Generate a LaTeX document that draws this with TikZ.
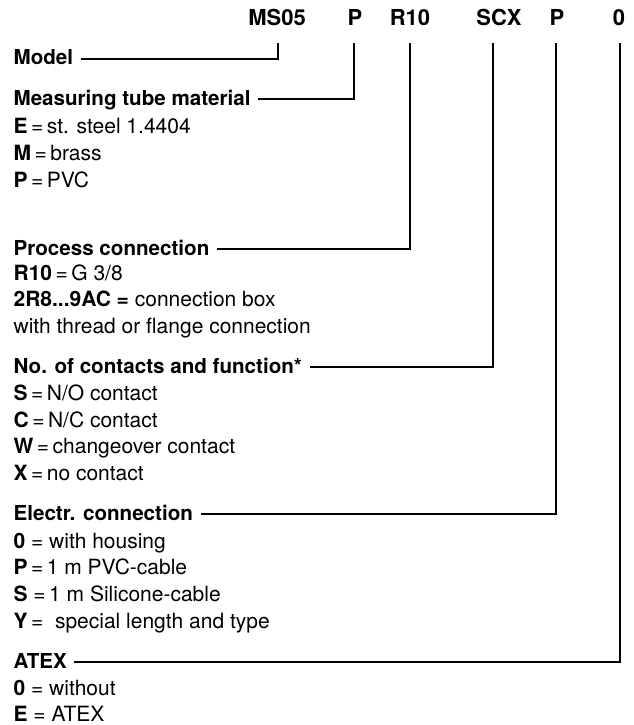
\documentclass[tikz,border=0pt]{standalone}
\usepackage{fontspec}
\setmainfont{TeX Gyre Heros}
\usetikzlibrary{positioning}

\begin{document}
\begin{tikzpicture}[x=1pt,y=-1pt,line width=1.2pt]
\tikzstyle{code}=[anchor=base,font=\fontsize{22}{26}\selectfont\bfseries,inner sep=0pt,text depth=0pt,outer ysep=17pt]
\tikzstyle{head}=[anchor=base west,font=\fontsize{20.6}{24}\selectfont\bfseries,inner sep=0pt,text height=12pt,text depth=0pt]
\tikzstyle{item}=[anchor=base west,font=\fontsize{21}{24}\selectfont,inner sep=0pt]
\useasboundingbox (0,0) rectangle (634,725);
% order code
\node[code] (cMS) at (277,26) {MS05};
\node[code] (cP) at (355,26) {P};
\node[code] (cR) at (410,26) {R10};
\node[code] (cSCX) at (499,26) {SCX};
\node[code] (cE) at (557,26) {P};
\node[code] (cA) at (619,26) {0};
% headings
\node[head] (model) at (13,65) {Model};
\node[head] (tube) at (13,105) {Measuring tube material};
\node[head] (proc) at (13,255) {Process connection};
\node[head] (cont) at (13,373) {No. of contacts and function*};
\node[head] (elec) at (13,520) {Electr. connection};
\node[head] (atex) at (13,668) {ATEX};
% options
\node[item] (t1) at (13,133) {\textbf{E}\,=\,st. steel 1.4404};
\node[item] (t2) at (13,160) {\textbf{M}\,=\,brass};
\node[item] (t3) at (13,187) {\textbf{P}\,=\,PVC};
\node[item] (p1) at (13,280) {\textbf{R10}\,=\,G 3/8};
\node[item] (p2) at (13,306) {\textbf{2R8...9AC =} connection box};
\node[item] (p3) at (13,333) {with thread or flange connection};
\node[item] (s1) at (13,400) {\textbf{S}\,=\,N/O contact};
\node[item] (s2) at (13,427) {\textbf{C}\,=\,N/C contact};
\node[item] (s3) at (13,453) {\textbf{W}\,=\,changeover contact};
\node[item] (s4) at (13,480) {\textbf{X}\,=\,no contact};
\node[item] (e1) at (13,548) {\textbf{0} = with housing};
\node[item] (e2) at (13,574) {\textbf{P}\,=\,1 m PVC-cable};
\node[item] (e3) at (13,601) {\textbf{S} =\,1 m Silicone-cable};
\node[item] (e4) at (13,628) {\textbf{Y}\,= \ special length and type};
\node[item] (a1) at (13,695) {\textbf{0} = without};
\node[item] (a2) at (13,721) {\textbf{E} = ATEX};
% connectors
\draw ([xshift=7pt]model.east) -| ([xshift=1pt]cMS.south);
\draw ([xshift=7pt]tube.east) -| ([xshift=-1pt]cP.south);
\draw ([xshift=7pt]proc.east) -| (cR.south);
\draw ([xshift=7pt]cont.east) -| ([xshift=-6pt]cSCX.south);
\draw ([xshift=7pt]elec.east) -| ([xshift=-1pt]cE.south);
\draw ([xshift=7pt]atex.east) -| ([xshift=1pt]cA.south);
\end{tikzpicture}
\end{document}
